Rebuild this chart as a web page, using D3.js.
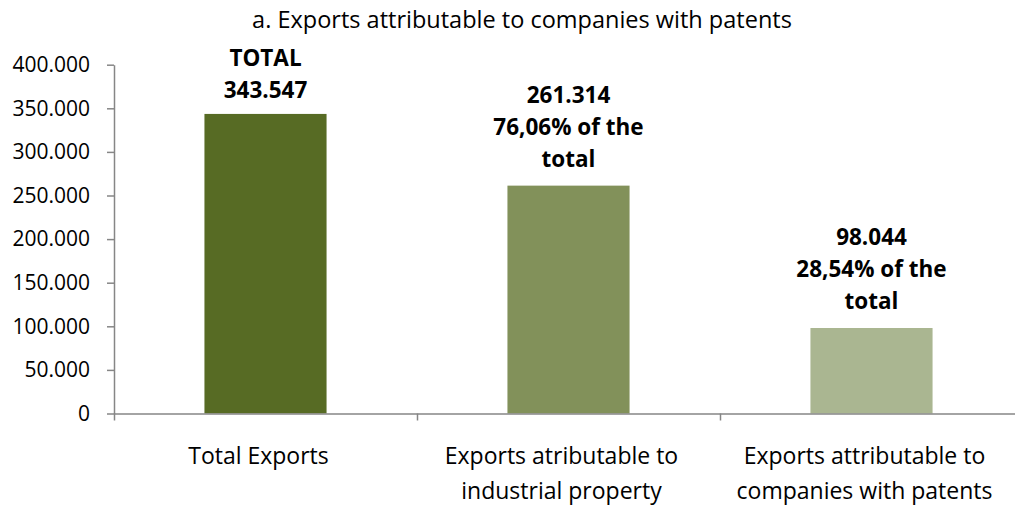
<!DOCTYPE html>
<html><head><meta charset="utf-8">
<script src="https://cdn.jsdelivr.net/npm/d3@7"></script>
<style>body{margin:0;background:#fff}svg{display:block}</style>
</head><body>
<svg id="c" width="1015" height="508"></svg>
<script>
const title = "a. Exports attributable to companies with patents";
const categories = [["Total Exports"], ["Exports atributable to", "industrial property"], ["Exports attributable to", "companies with patents"]];
const values = [343547, 261314, 98044];
const barLabels = [["TOTAL", "343.547"], ["261.314", "76,06% of the", "total"], ["98.044", "28,54% of the", "total"]];
const colors = ["#576B24", "#82915A", "#AAB691"];
const yTicks = [0, 50000, 100000, 150000, 200000, 250000, 300000, 350000, 400000];
const yTickLabels = ["0", "50.000", "100.000", "150.000", "200.000", "250.000", "300.000", "350.000", "400.000"];

const svg = d3.select("#c");
const FONT = "'Open Sans', sans-serif";
const x0 = 114, step = 303;
const x = d3.scaleBand().domain(d3.range(categories.length)).range([x0, x0 + step * categories.length]).padding(0);
const y = d3.scaleLinear().domain([0, 400000]).range([413.5, 64.7]);
const barW = x.bandwidth() * 0.403;

svg.append("text").attr("x", 522).attr("y", 28).attr("text-anchor", "middle")
  .style("font-family", FONT).style("font-size", "23.5px").attr("fill", "#000").text(title);

// bars
svg.selectAll("rect.bar").data(values).join("rect").attr("class", "bar")
  .attr("x", (d, i) => x(i) + x.bandwidth() / 2 - barW / 2)
  .attr("width", barW)
  .attr("y", d => y(d)).attr("height", d => y(0) - y(d))
  .attr("fill", (d, i) => colors[i]);

// y axis
const yAxis = d3.axisLeft(y).tickValues(yTicks).tickFormat((d, i) => yTickLabels[i]).tickSize(7).tickSizeOuter(0);
const ga = svg.append("g").attr("transform", `translate(${x0},0)`).call(yAxis);
ga.select(".domain").attr("stroke", "#868686").attr("stroke-width", 1.5);
ga.selectAll(".tick line").attr("stroke", "#868686").attr("stroke-width", 1.5);
ga.selectAll(".tick text").style("font-family", FONT).style("font-size", "21px").attr("fill", "#000").attr("x", -24);

// x axis
const xAxis = d3.axisBottom(d3.scaleLinear().domain([0, 3]).range([x0, x0 + step * 3]))
  .tickValues([0, 1, 2, 3]).tickFormat("").tickSize(7).tickSizeOuter(0);
const gx = svg.append("g").attr("transform", `translate(0,${y(0)})`).call(xAxis);
gx.select(".domain").attr("stroke", "#868686").attr("stroke-width", 1.5);
gx.selectAll(".tick line").attr("stroke", "#868686").attr("stroke-width", 1.5);

// category labels
categories.forEach((lines, i) => {
  const t = svg.append("text").attr("text-anchor", "middle").style("font-family", FONT).style("font-size", "23px").attr("fill", "#000");
  lines.forEach((ln, j) => t.append("tspan").attr("x", x(i) + x.bandwidth() / 2 - 7).attr("y", 464 + j * 35).text(ln));
});

// bar labels
barLabels.forEach((lines, i) => {
  const t = svg.append("text").attr("text-anchor", "middle").style("font-family", FONT).style("font-size", "22.5px").style("font-weight", "bold").attr("fill", "#000");
  const n = lines.length;
  const base = y(values[i]) - (i === 0 ? 16 : 19);
  lines.forEach((ln, j) => t.append("tspan").attr("x", x(i) + x.bandwidth() / 2).attr("y", base - (n - 1 - j) * 32).text(ln));
});
</script>
</body></html>
